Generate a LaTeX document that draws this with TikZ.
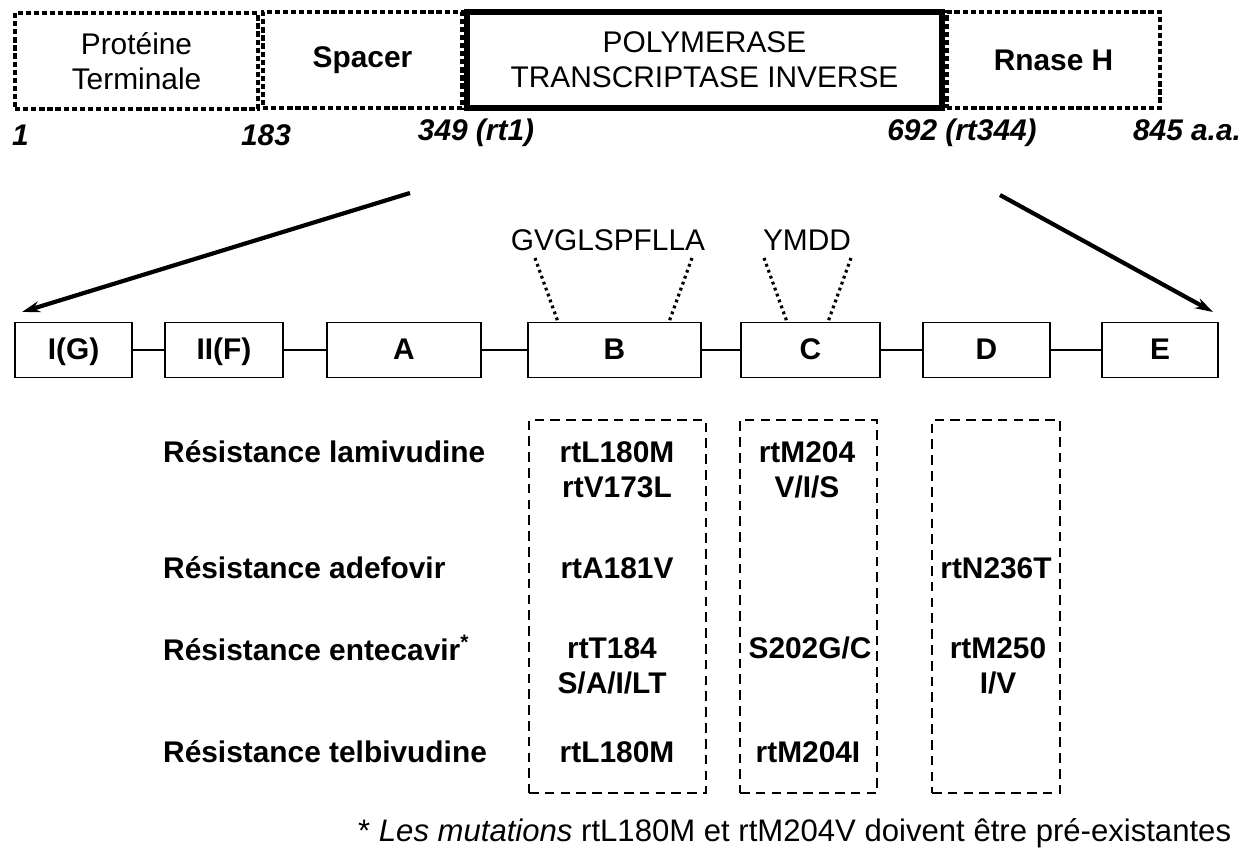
\documentclass[tikz,border=0pt]{standalone}
\usepackage{fontspec}
\setmainfont{Liberation Sans}
\usepackage{tikz}
\usetikzlibrary{arrows.meta}
\newcommand{\bodyfont}{\fontsize{17}{20}\selectfont}
\tikzset{
  seg/.style={draw, line width=2.6pt, dash pattern=on 3pt off 1.6pt, align=center,
    minimum height=1.92cm, inner sep=0pt, font=\bodyfont},
  segb/.style={seg, font=\bodyfont\bfseries},
  pol/.style={seg, solid, line width=3.4pt},
  dom/.style={draw, line width=0.9pt, minimum height=1.1cm, inner sep=0pt, font=\bodyfont\bfseries,
    text height=1.05em, text depth=0pt},
  col/.style={draw, line width=0.7pt, dash pattern=on 5.5pt off 3.5pt, minimum height=7.46cm, inner sep=0pt},
  mut/.style={font=\bodyfont\bfseries, align=center},
  res/.style={font=\bodyfont\bfseries, anchor=west},
  aanum/.style={font=\bodyfont\bfseries\itshape, anchor=base},
  seq/.style={font=\bodyfont},
  arr/.style={-{Stealth[length=0.36cm, width=0.22cm]}, line width=2.4pt},
  motif/.style={line width=1.8pt, dash pattern=on 1.6pt off 2pt},
  link/.style={line width=0.9pt},
}
\begin{document}
\begin{tikzpicture}[x=0.02cm, y=-0.02cm]
    \useasboundingbox (0,0) rectangle (1251,851);
    \node[seg, minimum width=4.86cm] (pt) at (136.5,61) {Protéine\\Terminale};
    \node[segb, minimum width=3.98cm] (sp) at (362.5,60) {Spacer};
    \node[pol, minimum width=9.5cm] (pol) at (704.5,60) {POLYMERASE\\TRANSCRIPTASE INVERSE};
    \node[segb, minimum width=4.26cm] (rh) at (1053.5,60) {Rnase H};
    \node[aanum, anchor=base west] (n1) at (6,146) {1};
    \node[aanum] (n183) at (266,146) {183};
    \node[aanum] (n349) at (476,141) {349 (rt1)};
    \node[aanum] (n692) at (962,141) {692 (rt344)};
    \node[aanum] (n845) at (1187,141) {845 a.a.};
    \node[dom, minimum width=2.34cm] (ig) at (73.5,350) {I(G)};
    \node[dom, minimum width=2.36cm] (iif) at (224,350) {II(F)};
    \node[dom, minimum width=3.08cm] (da) at (404,350) {A};
    \node[dom, minimum width=3.46cm] (db) at (614.5,350) {B};
    \node[dom, minimum width=2.78cm] (dc) at (810.5,350) {C};
    \node[dom, minimum width=2.54cm] (dd) at (986.5,350) {D};
    \node[dom, minimum width=2.32cm] (de) at (1160,350) {E};
    \draw[link] (ig) -- (iif);
    \draw[link] (iif) -- (da);
    \draw[link] (da) -- (db);
    \draw[link] (db) -- (dc);
    \draw[link] (dc) -- (dd);
    \draw[link] (dd) -- (de);
    \coordinate (l0) at (410,193);
    \coordinate (l1) at (22,312);
    \coordinate (r0) at (1000,195);
    \coordinate (r1) at (1213,312);
    \draw[arr] (l0) -- (l1);
    \draw[arr] (r0) -- (r1);
    \node[seq] (gv) at (608,240) {GVGLSPFLLA};
    \node[seq] (ym) at (807,240) {YMDD};
    \coordinate (g0) at (535,258);
    \coordinate (g1) at (558,322);
    \coordinate (g2) at (692,258);
    \coordinate (g3) at (669,322);
    \coordinate (y0) at (764,258);
    \coordinate (y1) at (787,322);
    \coordinate (y2) at (851,258);
    \coordinate (y3) at (828,322);
    \draw[motif] (g0) -- (g1);
    \draw[motif] (g2) -- (g3);
    \draw[motif] (y0) -- (y1);
    \draw[motif] (y2) -- (y3);
    \node[col, minimum width=3.54cm] (cb) at (617.5,606.5) {};
    \node[col, minimum width=2.74cm] (cc) at (808.5,606.5) {};
    \node[col, minimum width=2.56cm] (cd) at (996,606.5) {};
    \node[res] (rl) at (157,452) {Résistance lamivudine};
    \node[res] (ra) at (157,568) {Résistance adefovir};
    \node[res] (re) at (157,648) {Résistance entecavir\textsuperscript{*}};
    \node[res] (rt) at (157,752) {Résistance telbivudine};
    \node[mut] (b1) at (617,469.5) {rtL180M\\rtV173L};
    \node[mut] (b2) at (617,568) {rtA181V};
    \node[mut] (b3) at (612,665.5) {rtT184\\S/A/I/LT};
    \node[mut] (b4) at (617,752) {rtL180M};
    \node[mut] (c1) at (807,469.5) {rtM204\\V/I/S};
    \node[mut] (c3) at (810,648) {S202G/C};
    \node[mut] (c4) at (808,752) {rtM204I};
    \node[mut] (d2) at (996,568) {rtN236T};
    \node[mut] (d3) at (998,665.5) {rtM250\\I/V};
    \node[seq, anchor=west, font=\fontsize{17.7}{20}\selectfont] (note) at (352,833) {* \textit{Les mutations} rtL180M et rtM204V doivent être pré-existantes};
  \end{tikzpicture}
\end{document}
